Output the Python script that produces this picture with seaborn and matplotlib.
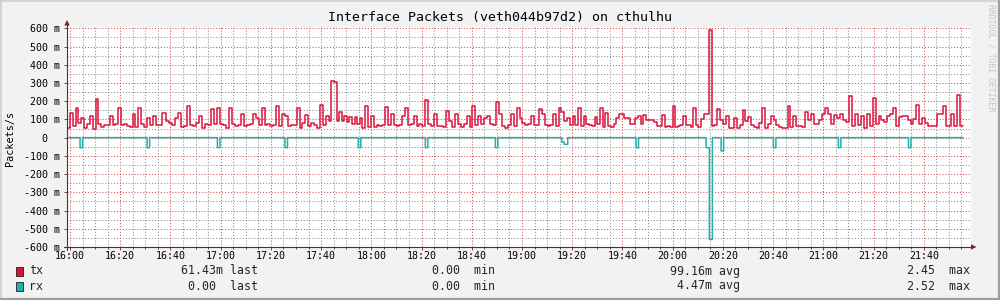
import numpy as np
import pandas as pd
import matplotlib
matplotlib.use("Agg")
import matplotlib.pyplot as plt
import matplotlib.dates as mdates
from matplotlib.lines import Line2D
from matplotlib.patches import Rectangle, Polygon
from matplotlib.ticker import MultipleLocator, FuncFormatter
import seaborn as sns

DAY = "2024-01-01"
TITLE = "Interface Packets (veth044b97d2) on cthulhu"
Y_LABEL = "Packets/s"
WATERMARK = "RRDTOOL / TOBI OETIKER"
X_START, X_END = "15:58:48", "21:58:48"

# tx (packets/s, milli units), read piecewise; each chunk spans from its start time to the next
tx_chunk_start = ["15:58:48", "16:27:12", "16:58:30", "17:22:12", "17:44:06", "17:56:24",
                  "18:21:24", "18:56:48", "19:22:24", "19:54:48", "20:14:24", "20:52:30",
                  "21:10:24"]
tx_end = "21:55:36"
tx_1 = [55, 135, 65, 160, 80, 110, 55, 75, 120, 45, 210, 73, 58, 68, 72, 120, 72, 77, 163, 68,
        73, 66, 58, 127, 58]
tx_2 = [165, 77, 58, 105, 72, 120, 68, 68, 137, 90, 80, 68, 105, 137, 58, 65, 176, 68, 62, 80,
        120, 55, 77, 68, 158, 77]
tx_3 = [160, 77, 68, 55, 165, 73, 62, 72, 127, 62, 72, 77, 132, 105, 72, 160, 68, 73, 64, 72]
tx_4 = [172, 62, 127, 117, 62, 68, 72, 160, 55, 80, 123, 62, 80, 68, 55, 178, 68, 117, 90]
tx_5 = [312, 303, 90, 138, 90, 117, 86, 114, 77, 114, 77, 110]
tx_6 = [55, 176, 58, 121, 58, 72, 62, 68, 170, 68, 127, 72, 62, 68, 117, 160, 68, 73, 121, 64,
        73, 62]
tx_7 = [209, 73, 62, 127, 66, 66, 58, 147, 92, 58, 132, 73, 58, 77, 121, 58, 176, 68, 117, 77,
        110, 117, 77, 68, 198, 132, 66, 55, 68, 132]
tx_8 = [62, 163, 110, 80, 72, 77, 121, 72, 72, 158, 132, 72, 62, 68, 128, 62, 165, 138, 92, 110,
        72, 121, 68]
tx_9 = [165, 62, 117, 73, 68, 62, 114, 77, 163, 58, 136, 66, 58, 77, 110, 127, 127, 105, 105, 73,
        77, 110, 117, 77, 123, 99, 99, 99, 86, 62]
tx_10 = [66, 123, 61, 66, 57, 171, 61, 66, 70, 119, 68, 68, 61, 163, 72, 57, 101, 130, 130]
tx_11 = [589, 66, 72, 158, 97, 75, 117, 51, 53, 106, 53, 70, 149, 94, 114, 70, 57, 51, 83, 163,
         53, 75, 119, 97, 70, 61, 53, 53, 174, 57, 119, 64, 64, 57]
tx_12 = [141, 95, 127, 73, 73, 99, 128, 160, 128, 73, 123, 110, 127, 99, 84]
tx_13 = [231, 62, 132, 68, 121, 55, 128, 62, 215, 77, 121, 99, 86, 121, 127, 163, 66, 114, 121,
         121, 99, 77, 103, 178, 77, 110, 80, 62, 62, 62, 128, 128, 172, 62, 66, 128, 62, 233, 62]
tx_chunks = [tx_1, tx_2, tx_3, tx_4, tx_5, tx_6, tx_7, tx_8, tx_9, tx_10, tx_11, tx_12, tx_13]

# rx (drawn negative, milli units): zero except these dips
rx_dip_start = ["16:04:00", "16:30:42", "16:58:42", "17:25:36", "17:54:48", "18:21:30",
                "18:49:24", "19:15:54", "19:16:48", "19:45:24", "20:13:18", "20:14:36",
                "20:19:18", "20:40:06", "21:06:00", "21:33:54"]
rx_dip_minutes = [1, 1, 1, 1, 1, 1, 1, 0.9, 1.4, 1, 1.3, 1.2, 1, 1, 1, 1]
rx_dip_value = [-55, -55, -55, -55, -55, -55, -55, -24, -37, -55, -55, -558, -73, -55, -55, -55]

legend_names = ["tx", "rx"]
legend_last = ["61.43m", "0.00 "]
legend_min = ["0.00 ", "0.00 "]
legend_avg = ["99.16m", "4.47m"]
legend_max = ["2.45 ", "2.52 "]

TX_COLOR = "#DC143C"
RX_COLOR = "#20B2AA"
BACK = "#F2F2F2"
AXIS = "#3a3a3a"
ARROW = "#801F1F"

sns.set_theme(style="white")
plt.rcParams['font.family'] = ['DejaVu Sans Mono', 'DejaVu Sans']


def ts(s):
    return pd.Timestamp(f"{DAY} {s}")


# build tx series
bounds = [ts(s) for s in tx_chunk_start] + [ts(tx_end)]
t_list, v_list = [], []
for k, vals in enumerate(tx_chunks):
    rng = pd.date_range(bounds[k], bounds[k + 1], periods=len(vals) + 1)[:-1]
    t_list.extend(rng)
    v_list.extend(vals)
t_list.append(bounds[-1])
v_list.append(tx_chunks[-1][-1])
tx_df = pd.DataFrame({"time": t_list, "value": np.array(v_list) / 1000.0})

# build rx series
grid = pd.date_range(bounds[0], bounds[-1], freq="6s")
rx = np.zeros(len(grid))
for s, m, v in zip(rx_dip_start, rx_dip_minutes, rx_dip_value):
    s0 = ts(s)
    mask = (grid >= s0) & (grid < s0 + pd.Timedelta(minutes=m))
    rx[mask] = v / 1000.0
rx_df = pd.DataFrame({"time": grid, "value": rx})

W, H = 1000, 300


def fx(x):
    return x / W


def fy(y):
    return 1 - y / H


fig = plt.figure(figsize=(10, 3), dpi=100, facecolor=BACK)
ax = fig.add_axes([fx(67), fy(247), 904 / W, 220 / H])
ax.set_facecolor("white")

sns.lineplot(data=rx_df, x="time", y="value", ax=ax, color=RX_COLOR, linewidth=1.1,
             drawstyle="steps-post", estimator=None, legend=False, zorder=3)
sns.lineplot(data=tx_df, x="time", y="value", ax=ax, color=TX_COLOR, linewidth=1.1,
             drawstyle="steps-post", estimator=None, legend=False, zorder=4)

ax.set_xlim(ts(X_START), ts(X_END))
ax.set_ylim(-0.6, 0.607)
ax.set_xlabel("")
ax.set_ylabel("")

ax.xaxis.set_major_locator(mdates.MinuteLocator(byminute=[0, 20, 40]))
ax.xaxis.set_minor_locator(mdates.MinuteLocator(byminute=range(0, 60, 5)))
ax.xaxis.set_major_formatter(mdates.DateFormatter("%H:%M"))
ax.yaxis.set_major_locator(MultipleLocator(0.1))
ax.yaxis.set_minor_locator(MultipleLocator(0.05))


def yfmt(v, p):
    if abs(v) < 1e-9:
        return "0  "
    return f"{v * 1000:.0f} m"


ax.yaxis.set_major_formatter(FuncFormatter(yfmt))

ax.set_axisbelow(True)
ax.grid(which="minor", color=(0.56, 0.56, 0.56, 0.24), linestyle=(0, (1, 1.8)), linewidth=0.75)
ax.grid(which="major", color=(0.87, 0.31, 0.31, 0.30), linestyle=(0, (1, 1.8)), linewidth=0.75)
for sp in ax.spines.values():
    sp.set_visible(False)

ax.tick_params(axis="y", which="major", length=2, width=0.6, color=AXIS, labelsize=7.2,
               pad=3, labelcolor="black", left=True)
ax.tick_params(axis="y", which="minor", length=0)
ax.tick_params(axis="x", which="major", length=2, width=0.6, color=AXIS, labelsize=7.2,
               pad=1.2, labelcolor="black", bottom=True)
ax.tick_params(axis="x", which="minor", length=1.2, width=0.6, color=AXIS, bottom=True)

# axis lines and arrows
fig.add_artist(Line2D([fx(67), fx(67)], [fy(250), fy(23)], color=AXIS, lw=0.8))
fig.add_artist(Line2D([fx(64), fx(972)], [fy(247), fy(247)], color=AXIS, lw=0.8))
fig.add_artist(Polygon([(fx(64.3), fy(25.5)), (fx(69.7), fy(25.5)), (fx(67), fy(20))],
                       closed=True, transform=fig.transFigure, color=ARROW, lw=0))
fig.add_artist(Polygon([(fx(971), fy(244.3)), (fx(971), fy(249.7)), (fx(976.5), fy(247))],
                       closed=True, transform=fig.transFigure, color=ARROW, lw=0))

# frame shading
fig.add_artist(Line2D([0, 1], [fy(0.5), fy(0.5)], color="#CFCFCF", lw=1.2))
fig.add_artist(Line2D([fx(0.5), fx(0.5)], [0, 1], color="#CFCFCF", lw=1.2))
fig.add_artist(Line2D([0, 1], [fy(299), fy(299)], color="#9E9E9E", lw=1.6))
fig.add_artist(Line2D([fx(999), fx(999)], [0, 1], color="#9E9E9E", lw=1.6))

# texts
fig.text(0.5, fy(18), TITLE, ha="center", va="center", fontsize=9.5, color="black")
fig.text(fx(10), fy(138), Y_LABEL, rotation=90, ha="center", va="center", fontsize=7.3,
         color="black")
fig.text(fx(991), fy(4), WATERMARK, rotation=270, ha="center", va="top", fontsize=5.9,
         color="#C4C4C4")

# legend
colors = [TX_COLOR, RX_COLOR]
rows_y = [271, 286]
for name, c, y, la, mi, av, ma in zip(legend_names, colors, rows_y, legend_last,
                                     legend_min, legend_avg, legend_max):
    fig.add_artist(Rectangle((fx(15.5), fy(y + 4.5)), 7 / W, 9 / H, transform=fig.transFigure,
                             facecolor=c, edgecolor="#202020", lw=0.6))
    fig.text(fx(29), fy(y), name, ha="left", va="center", fontsize=8.4)
    fig.text(fx(258), fy(y), f"{la} last", ha="right", va="center", fontsize=8.4)
    fig.text(fx(495), fy(y), f"{mi} min", ha="right", va="center", fontsize=8.4)
    fig.text(fx(740), fy(y), f"{av} avg", ha="right", va="center", fontsize=8.4)
    fig.text(fx(970), fy(y), f"{ma} max", ha="right", va="center", fontsize=8.4)

fig.savefig("out.png", dpi=100, facecolor=BACK)
